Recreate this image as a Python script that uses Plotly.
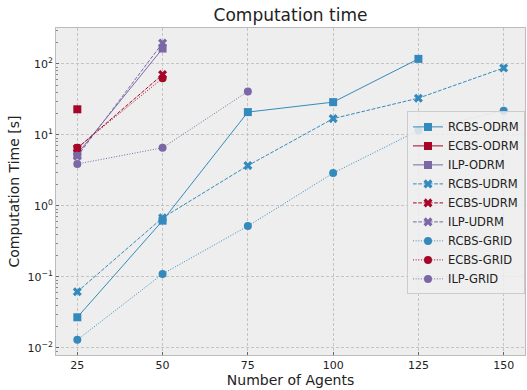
import plotly.graph_objects as go

agents = [25, 50, 75, 100, 125, 150]

rcbs_odrm = [0.027, 0.62, 21, 29, 118]
ecbs_odrm = [23]
ilp_odrm = [5.4, 165]
rcbs_udrm = [0.062, 0.68, 3.7, 17, 33, 88]
ecbs_udrm = [6.5, 71]
ilp_udrm = [5.0, 198]
rcbs_grid = [0.013, 0.11, 0.52, 2.9, 11.6, 22]
ecbs_grid = [6.6, 63]
ilp_grid = [3.9, 6.6, 41]

y_exponents = [-2, -1, 0, 1, 2]
y_ticktext = ["10<sup>%s</sup>" % str(e).replace("-", "\u2212") for e in y_exponents]

BLUE, RED, PURPLE = "#348ABD", "#A60628", "#7A68A6"
SOLID, DASH, DOT = "solid", "3.7px,1.6px", "1px,1.65px"

series = [
    ("RCBS-ODRM", rcbs_odrm, BLUE, SOLID, "square"),
    ("ECBS-ODRM", ecbs_odrm, RED, SOLID, "square"),
    ("ILP-ODRM", ilp_odrm, PURPLE, SOLID, "square"),
    ("RCBS-UDRM", rcbs_udrm, BLUE, DASH, "x"),
    ("ECBS-UDRM", ecbs_udrm, RED, DASH, "x"),
    ("ILP-UDRM", ilp_udrm, PURPLE, DASH, "x"),
    ("RCBS-GRID", rcbs_grid, BLUE, DOT, "circle"),
    ("ECBS-GRID", ecbs_grid, RED, DOT, "circle"),
    ("ILP-GRID", ilp_grid, PURPLE, DOT, "circle"),
]

fig = go.Figure()
for name, vals, color, dash, sym in series:
    fig.add_trace(go.Scatter(
        x=agents[:len(vals)], y=vals, name=name, mode="lines+markers",
        line=dict(color=color, width=1, dash=dash),
        marker=dict(color=color, symbol=sym, size=8, line=dict(width=0)),
    ))

minor_vals = [m * 10 ** e for e in range(-3, 3) for m in range(2, 10)]

fig.update_layout(
    width=527, height=390,
    margin=dict(l=56, r=2, t=28, b=35),
    paper_bgcolor="white", plot_bgcolor="#eeeeee",
    font=dict(family="DejaVu Sans", size=11, color="#222222"),
    title=dict(text="Computation time", x=0.5, xref="paper", xanchor="center",
               y=1 - 15 / 390, yanchor="middle", font=dict(size=17)),
    legend=dict(x=1.0, xanchor="right", y=0.745, yanchor="top",
                bgcolor="rgba(238,238,238,0.85)", bordercolor="#cccccc", borderwidth=1,
                font=dict(size=11.5), tracegroupgap=0, itemwidth=30),
    showlegend=True,
)
fig.update_xaxes(
    title=dict(text="Number of Agents", font=dict(size=14), standoff=3),
    range=[18.75, 156.25], tickvals=agents, ticks="inside", ticklen=3,
    tickcolor="#666666", showgrid=True, gridcolor="#c4c4c4", griddash="3px,2px",
    gridwidth=0.8, zeroline=False, showline=True, linecolor="#bcbcbc", mirror=True,
    automargin=False,
)
fig.update_yaxes(
    title=dict(text="Computation Time [s]", font=dict(size=14), standoff=4),
    type="log", range=[-2.1, 2.507],
    tickvals=[10.0 ** e for e in y_exponents], ticktext=y_ticktext,
    ticks="inside", ticklen=3, tickcolor="#666666",
    showgrid=True, gridcolor="#c4c4c4", griddash="3px,2px", gridwidth=0.8,
    zeroline=False, showline=True, linecolor="#bcbcbc", mirror=True,
    minor=dict(ticks="inside", ticklen=2, tickcolor="#888888",
               tickvals=minor_vals, showgrid=False),
    automargin=False,
)

fig.write_html("out.html", config={"displayModeBar": False},
               post_script="document.body.style.margin='0px';")
